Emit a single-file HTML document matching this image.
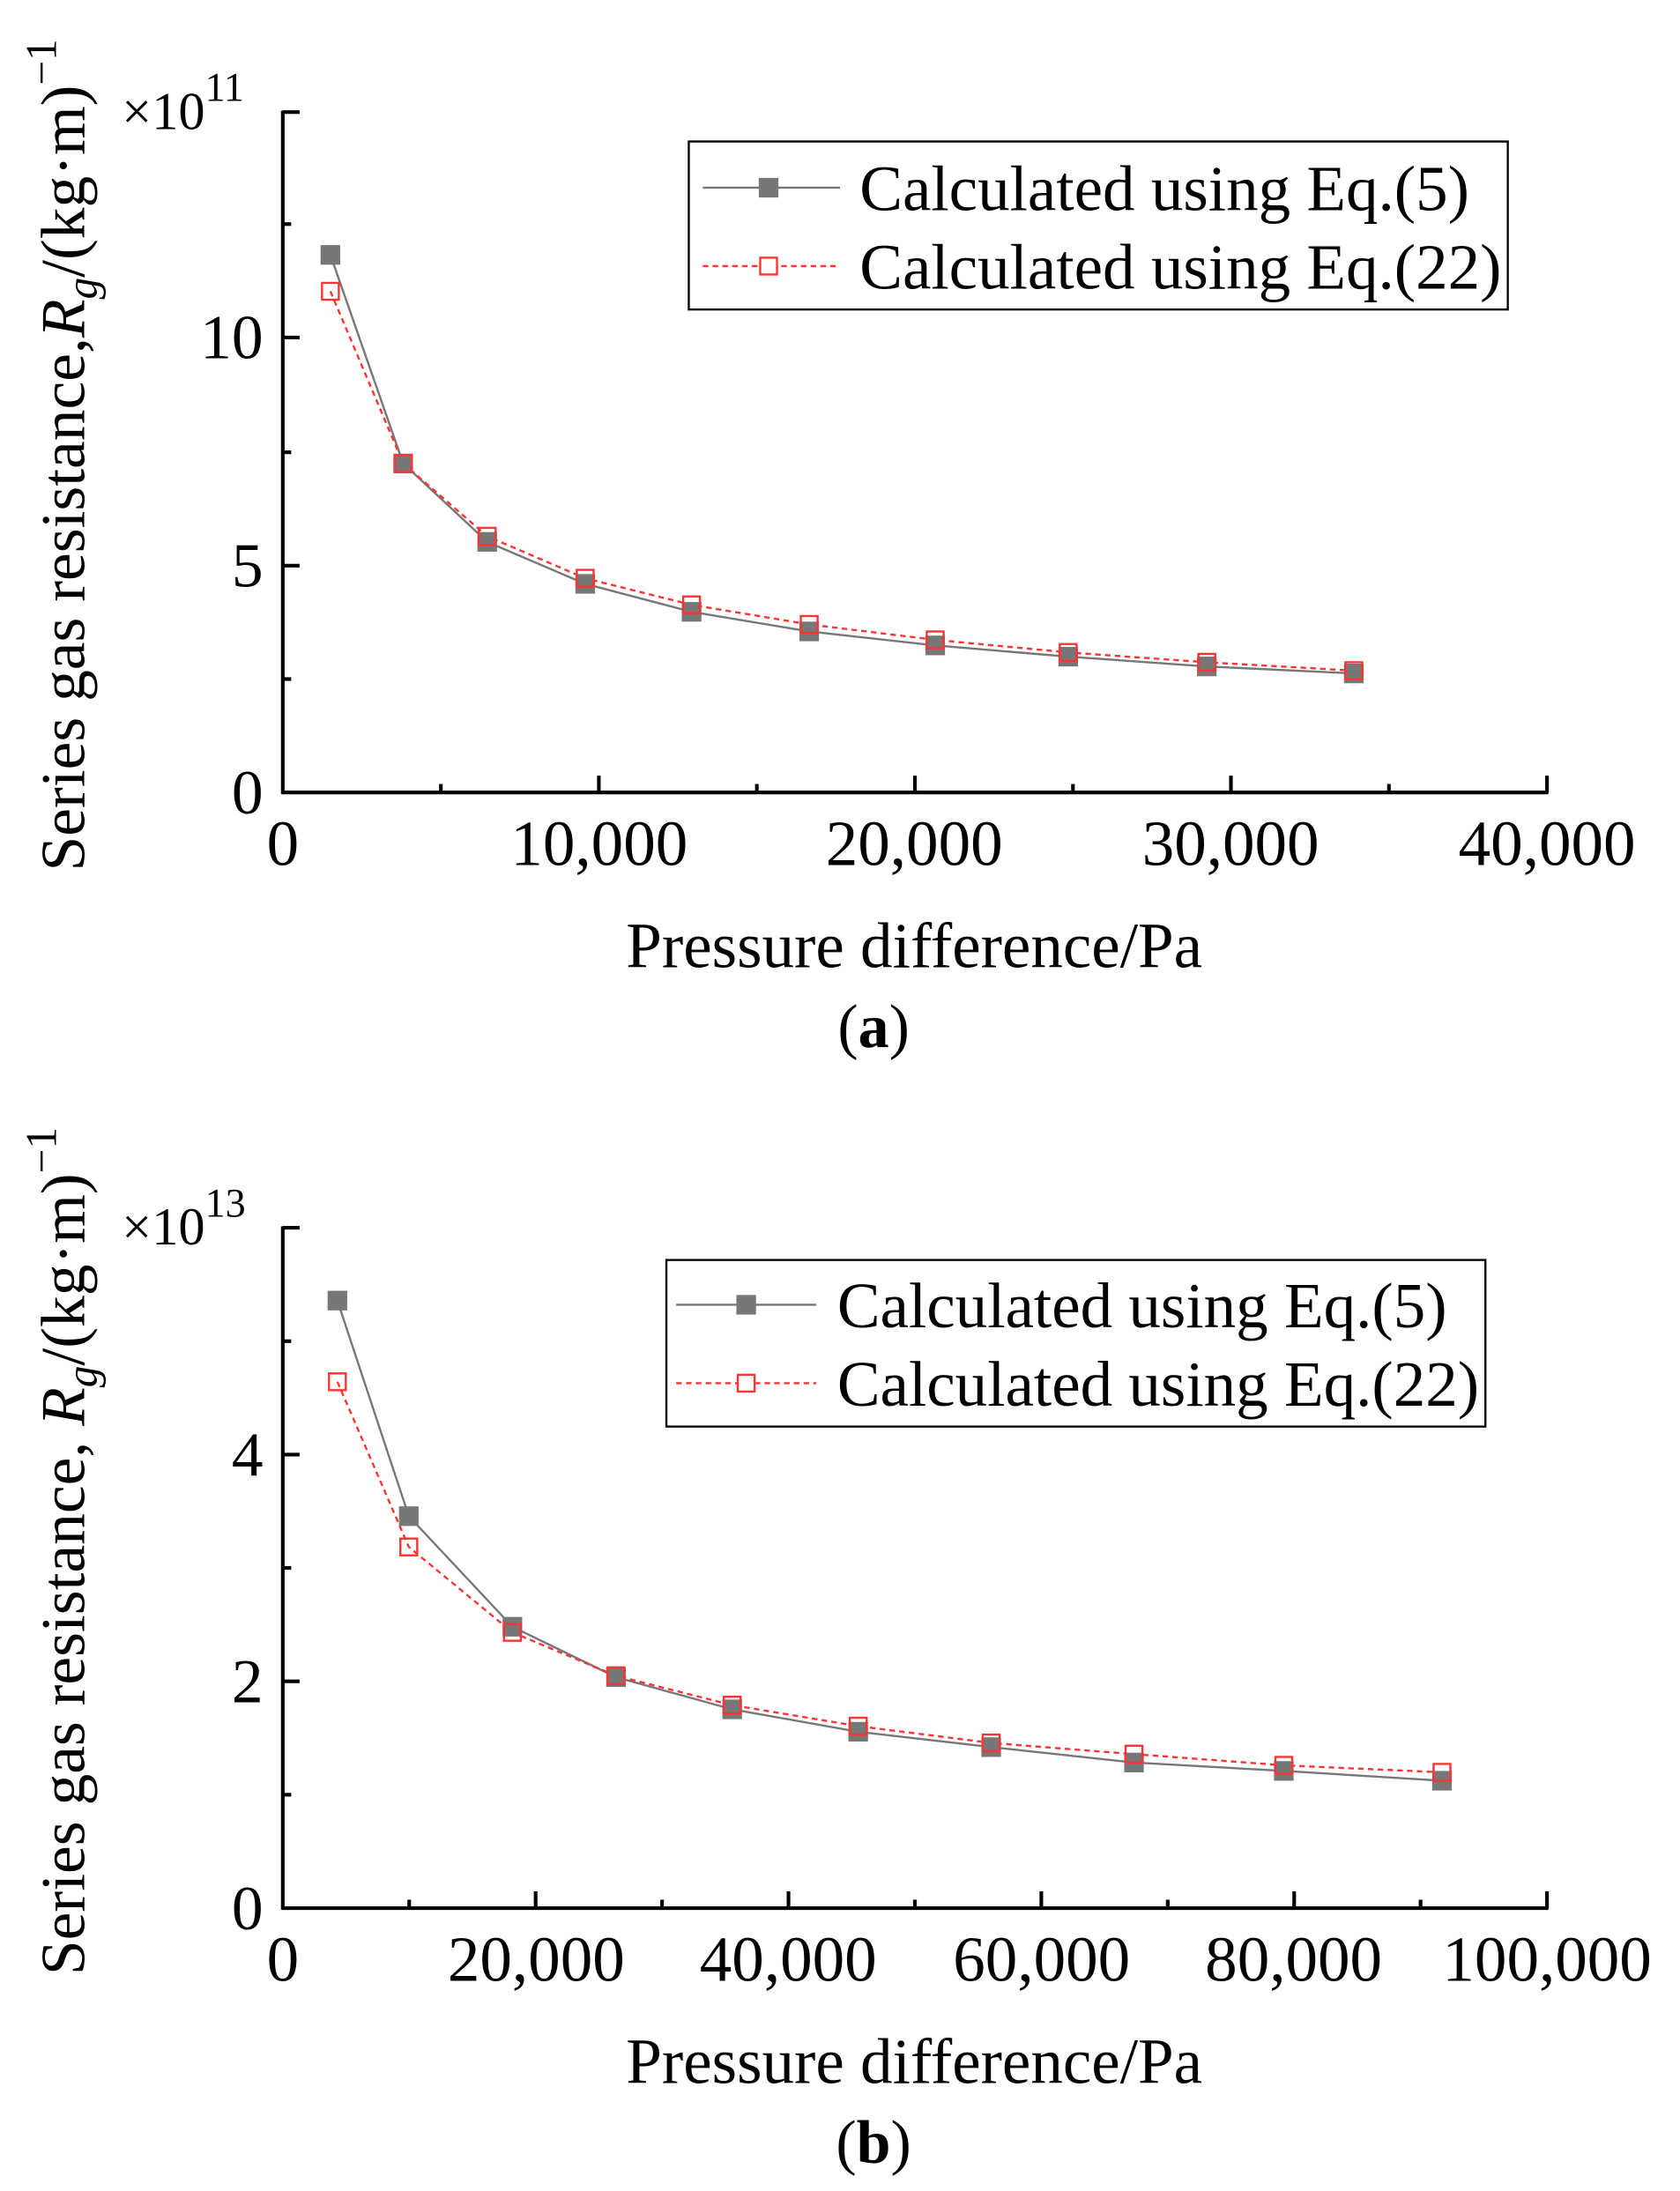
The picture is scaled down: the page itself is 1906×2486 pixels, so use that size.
<!DOCTYPE html>
<html><head><meta charset="utf-8"><style>html,body{margin:0;padding:0;background:#fff}svg{display:block}text{font-family:"Liberation Serif",serif;fill:#000}</style></head>
<body>
<svg width="1906" height="2486" viewBox="0 0 1200 1565" xmlns="http://www.w3.org/2000/svg">
<!-- Panel a -->
<g>
<line x1="202" y1="79" x2="202" y2="567" stroke="#000" stroke-width="2.6"/>
<line x1="201" y1="566" x2="1106" y2="566" stroke="#000" stroke-width="2.6"/>
<g stroke="#000" stroke-width="2.6">
<line x1="202" y1="80" x2="214" y2="80"/><line x1="202" y1="241" x2="214" y2="241"/><line x1="202" y1="404" x2="214" y2="404"/>
<line x1="202" y1="160" x2="208" y2="160"/><line x1="202" y1="323" x2="208" y2="323"/><line x1="202" y1="485" x2="208" y2="485"/>
<line x1="427.75" y1="566" x2="427.75" y2="554"/><line x1="653.5" y1="566" x2="653.5" y2="554"/><line x1="879.25" y1="566" x2="879.25" y2="554"/><line x1="1105" y1="566" x2="1105" y2="554"/>
<line x1="314.9" y1="566" x2="314.9" y2="560"/><line x1="540.6" y1="566" x2="540.6" y2="560"/><line x1="766.4" y1="566" x2="766.4" y2="560"/><line x1="992.1" y1="566" x2="992.1" y2="560"/>
</g>
<g font-size="45" text-anchor="end"><text x="188" y="581">0</text><text x="188" y="419">5</text><text x="188" y="256">10</text></g>
<text x="87" y="92" font-size="38">×10<tspan font-size="29" dy="-20">11</tspan></text>
<g font-size="46" text-anchor="middle"><text x="202" y="618">0</text><text x="428" y="618">10,000</text><text x="653" y="618">20,000</text><text x="879" y="618">30,000</text><text x="1105" y="618">40,000</text></g>
<text x="653" y="691" font-size="46" text-anchor="middle">Pressure difference/Pa</text>
<text x="624" y="748" font-size="44" text-anchor="middle">(<tspan font-weight="bold">a</tspan>)</text>
<text transform="translate(60,325) rotate(-90)" font-size="45" text-anchor="middle">Series gas resistance,<tspan font-style="italic">R</tspan><tspan font-style="italic" font-size="31" dy="9">g</tspan><tspan dy="-9">/(kg·m)</tspan><tspan font-size="31" dy="-20">−1</tspan></text>
<polyline fill="none" stroke="#777" stroke-width="1.5" points="236,182 288,331 348,387 418,417 494,437 578,451 668,461 763,469 862,476 967,481"/>
<polyline fill="none" stroke="#f33" stroke-width="1.5" stroke-dasharray="4,3" points="236,208 288,331 348,383 418,413 494,432 578,446 668,457 763,466 862,473 967,479"/>
<g fill="#777"><rect x="229" y="175" width="14" height="14"/><rect x="281" y="324" width="14" height="14"/><rect x="341" y="380" width="14" height="14"/><rect x="411" y="410" width="14" height="14"/><rect x="487" y="430" width="14" height="14"/><rect x="571" y="444" width="14" height="14"/><rect x="661" y="454" width="14" height="14"/><rect x="756" y="462" width="14" height="14"/><rect x="855" y="469" width="14" height="14"/><rect x="960" y="474" width="14" height="14"/></g>
<g fill="none" stroke="#f33" stroke-width="1.5"><rect x="230" y="202" width="12" height="12"/><rect x="282" y="325" width="12" height="12"/><rect x="342" y="377" width="12" height="12"/><rect x="412" y="407" width="12" height="12"/><rect x="488" y="426" width="12" height="12"/><rect x="572" y="440" width="12" height="12"/><rect x="662" y="451" width="12" height="12"/><rect x="757" y="460" width="12" height="12"/><rect x="856" y="467" width="12" height="12"/><rect x="961" y="473" width="12" height="12"/></g>
<rect x="492" y="101" width="585" height="120" fill="none" stroke="#000" stroke-width="1.5"/>
<line x1="502" y1="134" x2="600" y2="134" stroke="#777" stroke-width="1.5"/><rect x="542" y="127" width="14" height="14" fill="#777"/>
<line x1="502" y1="190" x2="600" y2="190" stroke="#f33" stroke-width="1.5" stroke-dasharray="4,3"/><rect x="543" y="184" width="12" height="12" fill="#fff" stroke="#f33" stroke-width="1.5"/>
<text x="614" y="150" font-size="46">Calculated using Eq.(5)</text>
<text x="614" y="206" font-size="46">Calculated using Eq.(22)</text>
</g>
<!-- Panel b -->
<g>
<line x1="202" y1="876" x2="202" y2="1364" stroke="#000" stroke-width="2.6"/>
<line x1="201" y1="1363" x2="1106" y2="1363" stroke="#000" stroke-width="2.6"/>
<g stroke="#000" stroke-width="2.6">
<line x1="202" y1="877" x2="214" y2="877"/><line x1="202" y1="1039" x2="214" y2="1039"/><line x1="202" y1="1201" x2="214" y2="1201"/>
<line x1="202" y1="958" x2="208" y2="958"/><line x1="202" y1="1120" x2="208" y2="1120"/><line x1="202" y1="1282" x2="208" y2="1282"/>
<line x1="382.6" y1="1363" x2="382.6" y2="1351"/><line x1="563.2" y1="1363" x2="563.2" y2="1351"/><line x1="743.8" y1="1363" x2="743.8" y2="1351"/><line x1="924.4" y1="1363" x2="924.4" y2="1351"/><line x1="1105" y1="1363" x2="1105" y2="1351"/>
<line x1="292.3" y1="1363" x2="292.3" y2="1357"/><line x1="472.9" y1="1363" x2="472.9" y2="1357"/><line x1="653.5" y1="1363" x2="653.5" y2="1357"/><line x1="834.1" y1="1363" x2="834.1" y2="1357"/><line x1="1014.7" y1="1363" x2="1014.7" y2="1357"/>
</g>
<g font-size="45" text-anchor="end"><text x="188" y="1378">0</text><text x="188" y="1216">2</text><text x="188" y="1054">4</text></g>
<text x="87" y="889" font-size="38">×10<tspan font-size="29" dy="-20">13</tspan></text>
<g font-size="46" text-anchor="middle"><text x="202" y="1415">0</text><text x="383" y="1415">20,000</text><text x="563" y="1415">40,000</text><text x="744" y="1415">60,000</text><text x="924" y="1415">80,000</text><text x="1105" y="1415">100,000</text></g>
<text x="653" y="1488" font-size="46" text-anchor="middle">Pressure difference/Pa</text>
<text x="624" y="1545" font-size="44" text-anchor="middle">(<tspan font-weight="bold">b</tspan>)</text>
<text transform="translate(60,1108) rotate(-90)" font-size="45" text-anchor="middle">Series gas resistance, <tspan font-style="italic">R</tspan><tspan font-style="italic" font-size="31" dy="9">g</tspan><tspan dy="-9">/(kg·m)</tspan><tspan font-size="31" dy="-20">−1</tspan></text>
<polyline fill="none" stroke="#777" stroke-width="1.5" points="241,929 292,1083 366,1162 440,1198 523,1221 613,1237 708,1248 810,1259 917,1265 1030,1272"/>
<polyline fill="none" stroke="#f33" stroke-width="1.5" stroke-dasharray="4,3" points="241,987 292,1105 366,1166 440,1197 523,1218 613,1233 708,1245 810,1253 917,1261 1030,1266"/>
<g fill="#777"><rect x="234" y="922" width="14" height="14"/><rect x="285" y="1076" width="14" height="14"/><rect x="359" y="1155" width="14" height="14"/><rect x="433" y="1191" width="14" height="14"/><rect x="516" y="1214" width="14" height="14"/><rect x="606" y="1230" width="14" height="14"/><rect x="701" y="1241" width="14" height="14"/><rect x="803" y="1252" width="14" height="14"/><rect x="910" y="1258" width="14" height="14"/><rect x="1023" y="1265" width="14" height="14"/></g>
<g fill="none" stroke="#f33" stroke-width="1.5"><rect x="235" y="981" width="12" height="12"/><rect x="286" y="1099" width="12" height="12"/><rect x="360" y="1160" width="12" height="12"/><rect x="434" y="1191" width="12" height="12"/><rect x="517" y="1212" width="12" height="12"/><rect x="607" y="1227" width="12" height="12"/><rect x="702" y="1239" width="12" height="12"/><rect x="804" y="1247" width="12" height="12"/><rect x="911" y="1255" width="12" height="12"/><rect x="1024" y="1260" width="12" height="12"/></g>
<rect x="476" y="900" width="585" height="119" fill="none" stroke="#000" stroke-width="1.5"/>
<line x1="483" y1="932" x2="583" y2="932" stroke="#777" stroke-width="1.5"/><rect x="526" y="925" width="14" height="14" fill="#777"/>
<line x1="483" y1="988" x2="583" y2="988" stroke="#f33" stroke-width="1.5" stroke-dasharray="4,3"/><rect x="527" y="982" width="12" height="12" fill="#fff" stroke="#f33" stroke-width="1.5"/>
<text x="598" y="948" font-size="46">Calculated using Eq.(5)</text>
<text x="598" y="1004" font-size="46">Calculated using Eq.(22)</text>
</g>
</svg>
</body></html>
